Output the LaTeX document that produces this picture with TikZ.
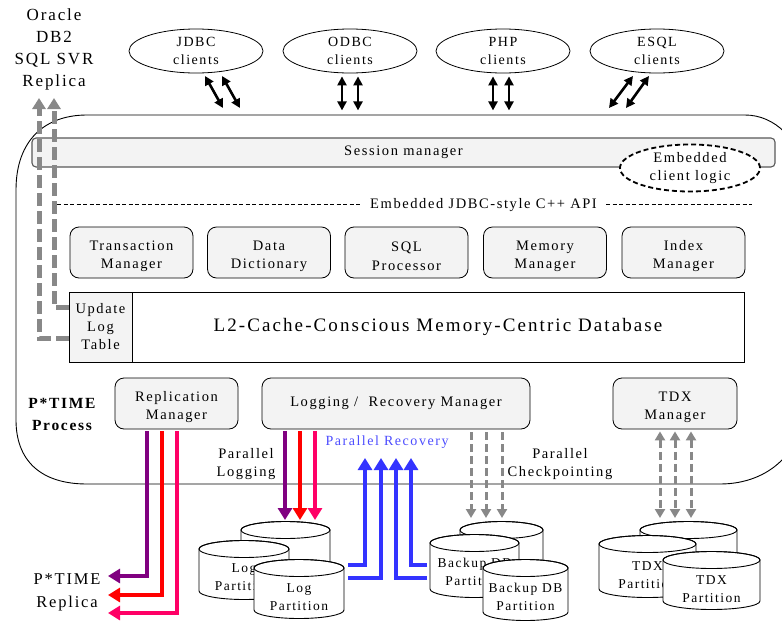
\documentclass[tikz,border=0pt]{standalone}
\usepackage{fontspec}
\setmainfont{Liberation Serif}[LetterSpace=11]
\usetikzlibrary{arrows.meta,shapes.geometric}
\definecolor{arrpurple}{HTML}{800080}
\definecolor{arrred}{HTML}{FF0000}
\definecolor{arrpink}{HTML}{FF0066}
\definecolor{arrblue}{HTML}{3333FF}
\definecolor{txtblue}{HTML}{4D4DFF}
\definecolor{repgray}{HTML}{888888}
\definecolor{boxfill}{HTML}{F3F3F3}
\newcommand{\fsz}[2]{\fontsize{#1}{#2}\selectfont}
\newcommand{\tlstrut}{\rule{0pt}{17pt}}
% name, cx, top, bottom, rx, text y, text
\newcommand{\dbcyl}[7]{%
  \filldraw[fill=white,draw=black,line width=0.9pt]
    ({#2-#5},#3) -- ({#2-#5},#4)
    arc[start angle=180,end angle=0,x radius=#5,y radius=8.5]
    -- ({#2+#5},#3)
    arc[start angle=0,end angle=-180,x radius=#5,y radius=8.5] -- cycle;
  \draw[line width=0.9pt] (#2,#3) ellipse[x radius=#5,y radius=8.5];
  \node[cyltxt] (#1) at (#2,#6) {#7};
}
\begin{document}
\begin{tikzpicture}[x=1pt,y=-1pt,
  client/.style={ellipse, draw, line width=0.8pt, minimum width=134pt, minimum height=44pt, inner sep=0pt, align=center, font=\fsz{14}{17.5}},
  comp/.style={draw, line width=0.8pt, rounded corners=9pt, fill=boxfill, minimum height=51pt, inner sep=0pt, align=center, font=\fsz{14.5}{18.5}},
  lbl/.style={align=center, inner sep=0pt, font=\fsz{14.5}{18.5}},
  cyltxt/.style={align=center, inner sep=0pt, font=\fsz{13.5}{18}},
  dbl/.style={line width=2.6pt, {Triangle[width=9pt,length=9pt]}-{Triangle[width=9pt,length=9pt]}},
  colarr/.style={line width=4pt, -{Triangle[width=14pt,length=12pt]}},
  grayrep/.style={draw=repgray, line width=5pt, dash pattern=on 13pt off 5pt, -{Triangle[width=13pt,length=11pt]}},
  ckpt/.style={draw=repgray, line width=3pt, dash pattern=on 8pt off 4pt, -{Triangle[width=10pt,length=9pt]}},
  tdxarr/.style={draw=repgray, line width=3pt, dash pattern=on 8pt off 4pt, {Triangle[width=10pt,length=9pt]}-{Triangle[width=10pt,length=9pt]}},
]
\clip (0,0) rectangle (782,624);
\fill[white] (0,0) rectangle (782,624);

% process boundary
\draw[line width=0.9pt] (16,190) .. controls (16,140) and (45,115) .. (87,115) -- (745,115)
  .. controls (775,115) and (800,140) .. (805,175) -- (805,400)
  .. controls (805,450) and (770,484) .. (720,484) -- (87,484)
  .. controls (40,484) and (16,460) .. (16,420) -- cycle;

% top-left label
\node[align=center, inner sep=0pt, font=\fsz{17}{22}] (orcl) at (54,49) {Oracle\\DB2\\SQL SVR\\Replica};

% clients
\node[client] (jdbc) at (196,51) {JDBC\\clients};
\node[client] (odbc) at (350,51) {ODBC\\clients};
\node[client] (php) at (503,51) {PHP\\clients};
\node[client] (esql) at (657,51) {ESQL\\clients};

\coordinate (j1) at (223,108); \coordinate (j1s) at (205,76);
\coordinate (j2) at (240,108); \coordinate (j2s) at (222,76);
\coordinate (e1) at (609,108); \coordinate (e1s) at (633,76);
\coordinate (e2) at (626,108); \coordinate (e2s) at (649,76);
\draw[dbl] (j1s) -- (j1);
\draw[dbl] (j2s) -- (j2);
\draw[dbl] ([xshift=-8pt]odbc.south) ++(0,3) -- ++(0,34);
\draw[dbl] ([xshift=8pt]odbc.south) ++(0,3) -- ++(0,34);
\draw[dbl] ([xshift=-10pt]php.south) ++(0,3) -- ++(0,34);
\draw[dbl] ([xshift=6pt]php.south) ++(0,3) -- ++(0,34);
\draw[dbl] (e1s) -- (e1);
\draw[dbl] (e2s) -- (e2);

% session manager
\node[draw=black!65, line width=1.1pt, fill=boxfill, rounded corners=4pt, minimum width=743pt, minimum height=29pt, inner sep=0pt, font=\fsz{14.5}{18}] (sess) at (403.5,152.5) {\raisebox{-2pt}{Session manager}};
\node[ellipse, draw, dash pattern=on 5pt off 3pt, line width=1.8pt, fill=white, minimum width=140pt, minimum height=47pt, inner sep=0pt, align=center, font=\fsz{14.5}{18}] (ecl) at (690,168) {Embedded\\client logic};

% API line
\node[lbl, inner xsep=9pt] (api) at (483.5,205) {Embedded JDBC-style C++ API};
\coordinate (apiL) at (57,204);
\coordinate (apiR) at (752,204);
\draw[dash pattern=on 4pt off 2.5pt, line width=0.9pt] (apiL) -- (apiL -| api.west);
\draw[dash pattern=on 4pt off 2.5pt, line width=0.9pt] (apiR -| api.east) -- (apiR);

% components
\node[comp, minimum width=123pt] (trans) at (131.5,252.5) {\tlstrut Transaction\\Manager};
\node[comp, minimum width=123pt] (dict) at (269,252.5) {\tlstrut Data\\Dictionary};
\node[comp, minimum width=123pt] (sqlp) at (406.5,252.5) {\tlstrut SQL\\Processor};
\node[comp, minimum width=123pt] (mem) at (545,252.5) {\tlstrut Memory\\Manager};
\node[comp, minimum width=123pt] (idx) at (683.5,252.5) {\tlstrut Index\\Manager};

% database
\node[draw, line width=0.9pt, fill=white, minimum width=612pt, minimum height=70pt, inner sep=0pt, font=\fsz{19}{22}] (db) at (438,327) {\raisebox{-2pt}{L2-Cache-Conscious Memory-Centric Database}};
\node[draw, line width=0.9pt, fill=boxfill, minimum width=63pt, minimum height=70pt, inner sep=0pt, align=center, font=\fsz{14.5}{18}] (upd) at (100.5,327) {Update\\Log\\Table};

% replica gray dashed
\coordinate (or1) at (39,98);
\coordinate (or2) at (54,98);
\draw[grayrep] ([yshift=-11pt]upd.west) -| (or1);
\draw[grayrep] ([yshift=20pt]upd.west) -| (or2);

% lower managers
\node[comp, minimum width=123pt] (repl) at (176.5,403.5) {\tlstrut Replication\\Manager};
\node[comp, minimum width=268pt] (logrec) at (396,403.5) {\raisebox{-2pt}{Logging /\ \ Recovery Manager}};
\node[comp, minimum width=124pt] (tdx) at (675,403.5) {\tlstrut TDX\\Manager};

\node[align=center, inner sep=0pt, font=\fsz{15.5}{22}\bfseries] (ptp) at (62,414) {P*TIME\\Process};

% cylinders
\dbcyl{logB}{285.5}{530}{572}{44.5}{551}{}
\dbcyl{logL}{244}{549}{591}{45}{577}{Log\\Partition}
\dbcyl{logF}{299}{568}{610}{45}{597}{Log\\Partition}
\dbcyl{bkB}{501.5}{530}{572}{41.5}{551}{}
\dbcyl{bkL}{474.5}{543}{589}{44.5}{572}{Backup DB\\Partition}
\dbcyl{bkF}{525.5}{568}{612}{42.5}{597}{Backup DB\\Partition}
\dbcyl{tdB}{688.5}{530}{572}{48.5}{551}{}
\dbcyl{tdL}{647.5}{544}{589}{48.5}{575}{TDX\\Partition}
\dbcyl{tdF}{711.5}{560}{601}{48.5}{589}{TDX\\Partition}

% replication arrows
\node[align=center, inner sep=0pt, font=\fsz{16.5}{23}] (prep) at (67,592) {P*TIME\\Replica};
\coordinate (rp1) at (108,576);
\coordinate (rp2) at (108,595);
\coordinate (rp3) at (108,613);
\draw[colarr, draw=arrpurple, arrpurple] ([xshift=-29.5pt,yshift=-2pt]repl.south) |- (rp1);
\draw[colarr, draw=arrred, arrred] ([xshift=-14.5pt,yshift=-2pt]repl.south) |- (rp2);
\draw[colarr, draw=arrpink, arrpink] ([xshift=0.5pt,yshift=-2pt]repl.south) |- (rp3);

% logging arrows
\node[lbl] (plog) at (246,464) {Parallel\\Logging};
\coordinate (lg1) at (285,520);
\coordinate (lg2) at (300,520);
\coordinate (lg3) at (315,520);
\draw[colarr, draw=arrpurple, arrpurple] ([xshift=-111pt,yshift=-2pt]logrec.south) -- (lg1);
\draw[colarr, draw=arrred, arrred] ([xshift=-96pt,yshift=-2pt]logrec.south) -- (lg2);
\draw[colarr, draw=arrpink, arrpink] ([xshift=-81pt,yshift=-2pt]logrec.south) -- (lg3);

% recovery arrows
\node[lbl, font=\fsz{14}{17}, text=txtblue] (prec) at (387,442) {Parallel Recovery};
\coordinate (bl1) at (348,565); \coordinate (bt1) at (365,458);
\coordinate (bl2) at (348,578); \coordinate (bt2) at (381,458);
\coordinate (br3) at (427,578); \coordinate (bt3) at (396,458);
\coordinate (br4) at (427,565); \coordinate (bt4) at (411,458);
\draw[colarr, draw=arrblue, arrblue] (bl1) -| (bt1);
\draw[colarr, draw=arrblue, arrblue] (bl2) -| (bt2);
\draw[colarr, draw=arrblue, arrblue] (br3) -| (bt3);
\draw[colarr, draw=arrblue, arrblue] (br4) -| (bt4);

% checkpoint arrows
\node[lbl] (pck) at (560,464) {Parallel\\Checkpointing};
\coordinate (ck1) at (471,518);
\coordinate (ck2) at (486,518);
\coordinate (ck3) at (502,518);
\draw[ckpt] ([xshift=75pt,yshift=-3pt]logrec.south) -- (ck1);
\draw[ckpt] ([xshift=90pt,yshift=-3pt]logrec.south) -- (ck2);
\draw[ckpt] ([xshift=106pt,yshift=-3pt]logrec.south) -- (ck3);

% tdx arrows
\coordinate (tx1) at (660,518);
\coordinate (tx2) at (675,518);
\coordinate (tx3) at (691,518);
\draw[tdxarr] ([xshift=-15pt,yshift=-2pt]tdx.south) -- (tx1);
\draw[tdxarr] ([xshift=0pt,yshift=-2pt]tdx.south) -- (tx2);
\draw[tdxarr] ([xshift=16pt,yshift=-2pt]tdx.south) -- (tx3);
\end{tikzpicture}
\end{document}
